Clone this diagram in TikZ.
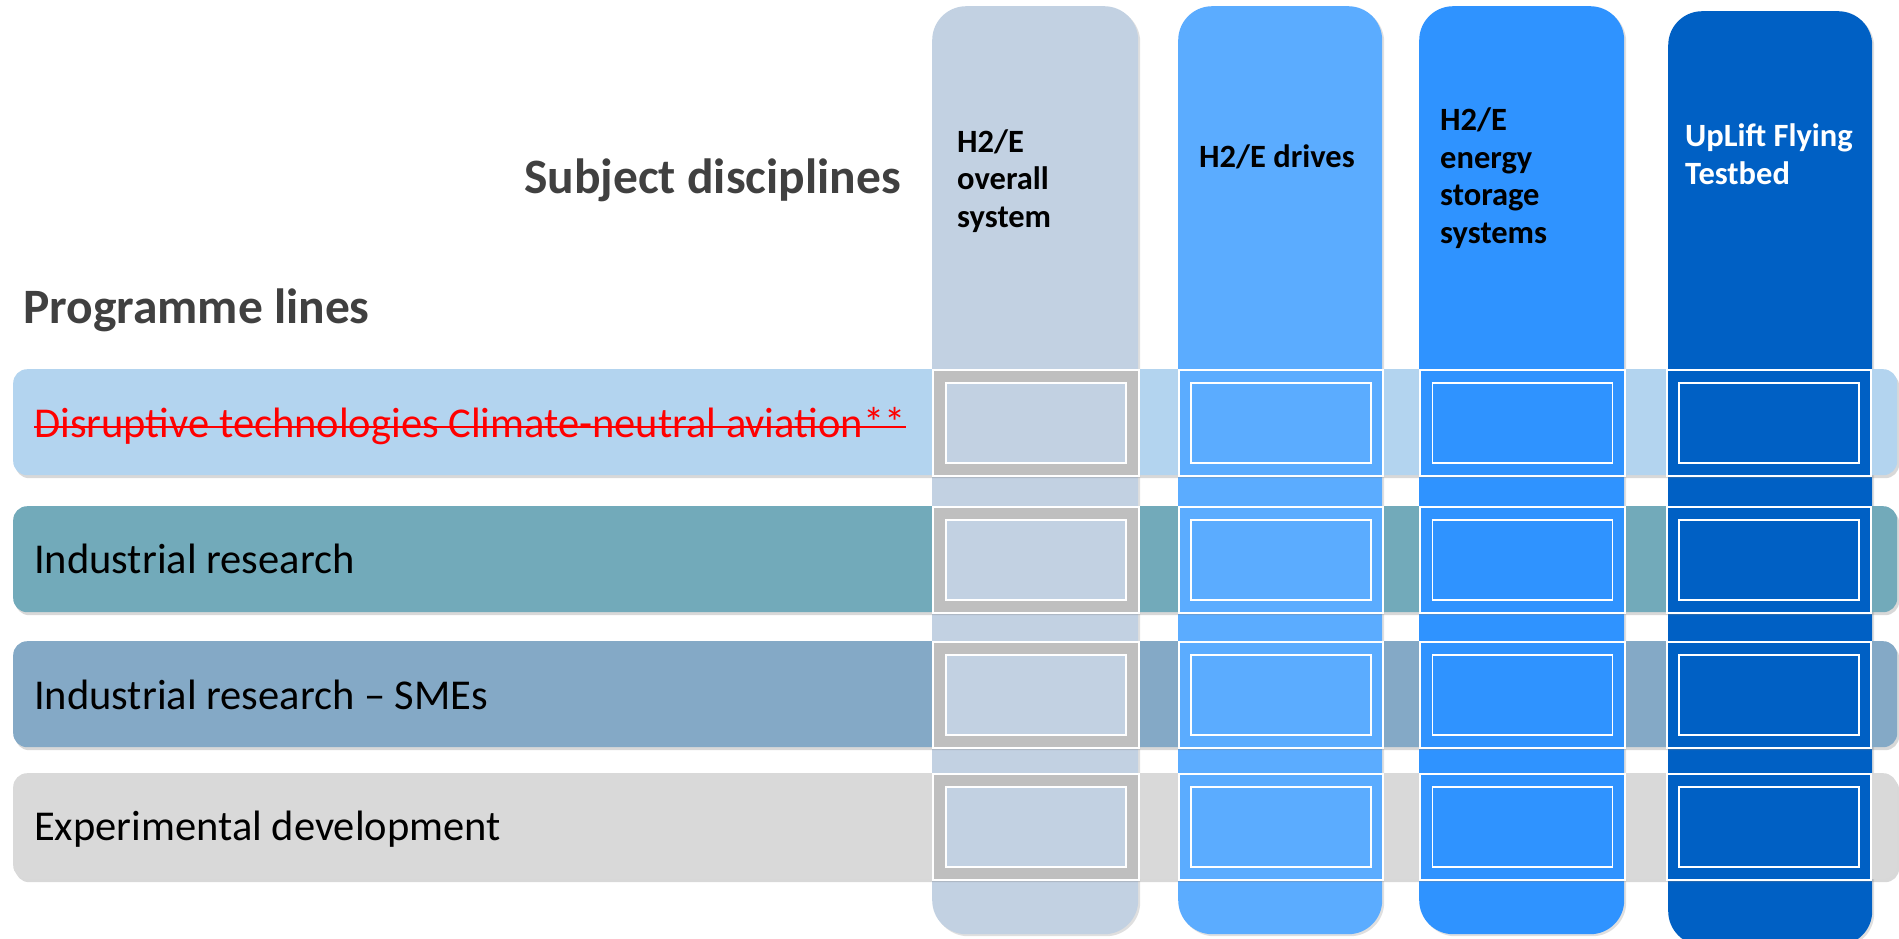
\documentclass[tikz,border=0pt]{standalone}
\usepackage{fontspec}
\setmainfont{Carlito}
\usetikzlibrary{shadows}
\definecolor{colA}{HTML}{C2D1E2}
\definecolor{colB}{HTML}{5BACFF}
\definecolor{colC}{HTML}{2F93FF}
\definecolor{colD}{HTML}{0060C4}
\definecolor{rowA}{HTML}{B3D4EF}
\definecolor{rowB}{HTML}{72AABA}
\definecolor{rowC}{HTML}{84A9C6}
\definecolor{rowD}{HTML}{D9D9D9}
\definecolor{cellgray}{HTML}{BFBFBF}
\definecolor{headgray}{HTML}{404040}
\definecolor{strikered}{HTML}{FF0000}
\begin{document}
\begin{tikzpicture}[x=1pt,y=-1pt,
  colbox/.style={draw=none, rectangle, rounded corners=34pt, inner sep=0pt, anchor=north west,
    drop shadow={shadow xshift=2pt, shadow yshift=-2pt, opacity=0.25}},
  rowbox/.style={draw=none, rectangle, rounded corners=14pt, inner sep=0pt, anchor=north west,
    minimum width=1884pt, minimum height=106pt,
    drop shadow={shadow xshift=2pt, shadow yshift=-3pt, opacity=0.3}},
  cellout/.style={draw=white, line width=1.8pt, rectangle, inner sep=0pt, anchor=north west},
  cellin/.style={draw=white, line width=1.8pt, rectangle, inner sep=0pt, minimum width=180pt, minimum height=80pt},
  headtxt/.style={text=headgray, font=\bfseries\fontsize{49.5}{58}\selectfont, inner sep=0pt, anchor=base west},
  coltxt/.style={font=\bfseries\fontsize{32.5}{37.5}\selectfont, inner sep=0pt, anchor=base west, align=left},
  rowtxt/.style={font=\fontsize{42.5}{50}\selectfont, inner sep=0pt, anchor=base west}
]
\useasboundingbox (0,0) rectangle (1899,938);
\fill[white] (0,0) rectangle (1899,938);

% columns
\node[colbox, fill=colA, minimum width=206pt, minimum height=928pt] (col1) at (932,6) {};
\node[colbox, fill=colB, minimum width=204pt, minimum height=928pt] (col2) at (1178,6) {};
\node[colbox, fill=colC, minimum width=205pt, minimum height=928pt] (col3) at (1419,6) {};
\node[colbox, fill=colD, minimum width=204pt, minimum height=934pt] (col4) at (1668,11) {};

% rows
\node[rowbox, fill=rowA] (row1) at (13,369) {};
\node[rowbox, fill=rowB] (row2) at (13,506) {};
\node[rowbox, fill=rowC] (row3) at (13,641) {};
\node[rowbox, fill=rowD] (row4) at (13,773) {};

% cells
\foreach \r/\y in {1/369,2/506,3/641,4/773}{
  \node[cellout, fill=cellgray, minimum width=206pt, minimum height=106pt] (o1\r) at (932,\y) {};
  \node[cellin, fill=colA] (i1\r) at (o1\r.center) {};
  \node[cellout, fill=colB, minimum width=204pt, minimum height=106pt] (o2\r) at (1178,\y) {};
  \node[cellin, fill=colB] (i2\r) at (o2\r.center) {};
  \node[cellout, fill=colC, minimum width=205pt, minimum height=106pt] (o3\r) at (1419,\y) {};
  \node[cellin, fill=colC] (i3\r) at (o3\r.center) {};
  \node[cellout, fill=colD, minimum width=204pt, minimum height=106pt] (o4\r) at (1666,\y) {};
  \node[cellin, fill=colD] (i4\r) at (o4\r.center) {};
}

% headings
\node[headtxt] (subj) at (524,193) {Subject disciplines};
\node[headtxt] (prog) at (23,323) {Programme lines};

% column headers (base anchor = baseline of last line)
\node[coltxt] (h1) at (957,227) {H2/E\\overall\\system};
\node[coltxt] (h2) at (1199,167) {H2/E drives};
\node[coltxt] (h3) at (1440,243) {H2/E\\energy\\storage\\systems};
\node[coltxt, text=white] (h4) at (1685,184) {UpLift Flying\\Testbed};

% row labels
\node[rowtxt, text=strikered] (t1) at (34,437) {Disruptive technologies Climate-neutral aviation**};
\draw[strikered, line width=2.8pt] ([yshift=10pt]t1.base west) -- ([yshift=10pt]t1.base east);
\node[rowtxt] (t2) at (34,573) {Industrial research};
\node[rowtxt] (t3) at (34,709) {Industrial research – SMEs};
\node[rowtxt] (t4) at (34,840) {Experimental development};
\end{tikzpicture}
\end{document}
